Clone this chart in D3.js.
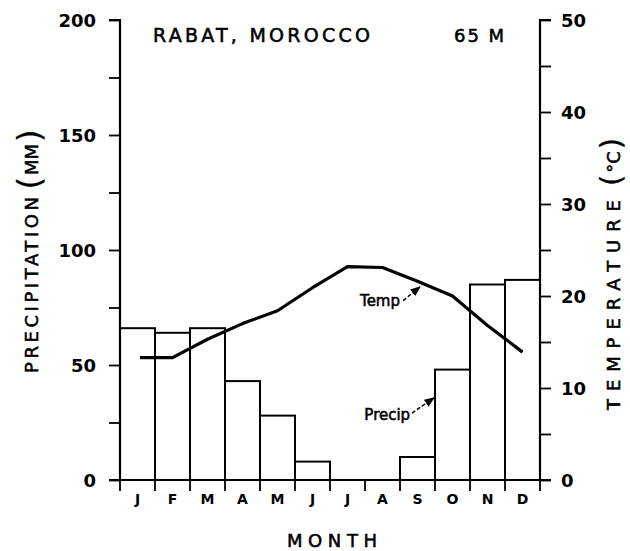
<!DOCTYPE html>
<html>
<head>
<meta charset="utf-8">
<script src="https://cdn.jsdelivr.net/npm/d3@7"></script>
<style>
  html, body { margin: 0; padding: 0; background: #fff; }
  svg { display: block; }
  text { fill: #000; }
</style>
</head>
<body>
<svg id="chart" width="630" height="551"></svg>
<script>
// ---- data ----
const months = ["J", "F", "M", "A", "M", "J", "J", "A", "S", "O", "N", "D"];
const precip = [66, 64, 66, 43, 28, 8, 0, 0, 10, 48, 85, 87];
const temp = [13.3, 13.3, 15.3, 17.0, 18.4, 20.9, 23.2, 23.1, 21.6, 20.0, 16.8, 13.9];
const precipTicks = [0, 25, 50, 75, 100, 125, 150, 175, 200];
const precipLabels = [0, 50, 100, 150, 200];
const tempTicks = [0, 5, 10, 15, 20, 25, 30, 35, 40, 45, 50];
const tempLabels = [0, 10, 20, 30, 40, 50];
const station = "RABAT, MOROCCO";
const elevation = "65 M";
// annotations in data units: month position (0..12) and value
const tempNote = { text: "Temp", x: 8.0, y: 18.9, ax0: 8.09, ay0: 19.5, ax1: 8.57, ay1: 21.0 };
const precipNote = { text: "Precip", x: 8.29, y: 26.1, ax0: 8.34, ay0: 29.1, ax1: 8.97, ay1: 35.7 };

(function () {
// ---- layout ----
const svg = d3.select("#chart");
const pL = 120, pR = 540, pT = 20, pB = 480;
const idx = d3.range(12);

const x = d3.scaleBand().domain(idx).range([pL, pR]).padding(0);
const xPos = d3.scaleLinear().domain([0, 12]).range([pL, pR]);
const yP = d3.scaleLinear().domain([0, 200]).range([pB, pT]);
const yT = d3.scaleLinear().domain([0, 50]).range([pB, pT]);

const font = "'DejaVu Sans', sans-serif";
const heavy = sel => sel.attr("stroke", "#000").attr("stroke-width", 0.55);

// bars
svg.append("g").selectAll("rect")
  .data(idx.filter(i => precip[i] > 0))
  .join("rect")
  .attr("x", i => x(i))
  .attr("y", i => yP(precip[i]))
  .attr("width", x.bandwidth())
  .attr("height", i => yP(0) - yP(precip[i]))
  .attr("fill", "#fff")
  .attr("stroke", "#000")
  .attr("stroke-width", 2);

// left axis
const gl = svg.append("g").attr("transform", `translate(${pL},0)`)
  .call(d3.axisLeft(yP).tickValues(precipTicks).tickSize(11).tickPadding(13)
    .tickFormat(d => precipLabels.includes(d) ? d : ""));
gl.select(".domain").attr("stroke-width", 2.2).attr("d", `M-11,${pT}H0V${pB}H-11`);
gl.selectAll(".tick line").attr("stroke-width", 1.8);
gl.selectAll(".tick text").attr("font-family", font).attr("font-weight", "bold")
  .attr("font-size", 18).attr("dy", "0.36em");

// right axis
const gr = svg.append("g").attr("transform", `translate(${pR},0)`)
  .call(d3.axisRight(yT).tickValues(tempTicks).tickSize(11).tickPadding(10)
    .tickFormat(d => tempLabels.includes(d) ? d : ""));
gr.select(".domain").attr("stroke-width", 2.2).attr("d", `M11,${pT}H0V${pB}H11`);
gr.selectAll(".tick line").attr("stroke-width", 1.8);
gr.selectAll(".tick text").attr("font-family", font).attr("font-weight", "bold")
  .attr("font-size", 18).attr("dy", "0.36em");

// bottom axis: ticks on band boundaries, labels centred in bands
const gb = svg.append("g").attr("transform", `translate(0,${pB})`);
gb.append("line").attr("x1", pL - 8).attr("x2", pR + 8)
  .attr("stroke", "#000").attr("stroke-width", 2.2);
gb.selectAll("line.b").data(d3.range(13)).join("line").attr("class", "b")
  .attr("x1", d => xPos(d)).attr("x2", d => xPos(d))
  .attr("y1", 0).attr("y2", 11).attr("stroke", "#000").attr("stroke-width", 1.8);
gb.selectAll("text").data(idx).join("text")
  .attr("x", i => x(i) + x.bandwidth() / 2)
  .attr("y", 24)
  .attr("text-anchor", "middle")
  .attr("font-family", font).attr("font-weight", "bold").attr("font-size", 14)
  .text(i => months[i]);

// temperature line
svg.append("path")
  .datum(idx)
  .attr("fill", "none").attr("stroke", "#000").attr("stroke-width", 3.2)
  .attr("stroke-linejoin", "round")
  .attr("d", d3.line().x(i => x(i) + x.bandwidth() / 2 + (i === 0 ? 2.5 : 0)).y(i => yT(temp[i])));

// titles
svg.append("text").attr("x", 153).attr("y", 42)
  .attr("font-family", font).attr("font-size", 19)
  .attr("textLength", 217).attr("lengthAdjust", "spacing")
  .call(heavy)
  .text(station);
svg.append("text").attr("x", 454).attr("y", 42)
  .attr("font-family", font).attr("font-size", 18)
  .attr("textLength", 50).attr("lengthAdjust", "spacing")
  .call(heavy)
  .text(elevation);

// axis titles
const pt = svg.append("text")
  .attr("transform", "translate(38,373) rotate(-90)")
  .attr("font-family", font).attr("font-size", 18).call(heavy);
pt.append("tspan").attr("textLength", 176).attr("lengthAdjust", "spacing").text("PRECIPITATION");
pt.append("tspan").attr("dx", 4).attr("font-size", 32).attr("dy", 2).attr("stroke-width", 0.3).text("(");
pt.append("tspan").attr("font-size", 18).attr("dx", 2).attr("dy", -2).text("MM");
pt.append("tspan").attr("font-size", 32).attr("dx", 2).attr("dy", 2).attr("stroke-width", 0.3).text(")");

const tt = svg.append("text")
  .attr("transform", "translate(620,410) rotate(-90)")
  .attr("font-family", font).attr("font-size", 18).call(heavy);
tt.append("tspan").attr("textLength", 210).attr("lengthAdjust", "spacing").text("TEMPERATURE");
tt.append("tspan").attr("dx", 6).attr("font-size", 29).attr("dy", 1).attr("stroke-width", 0.3).text("(");
tt.append("tspan").attr("font-size", 18).attr("dx", 2).attr("dy", -1).text("°C");
tt.append("tspan").attr("font-size", 29).attr("dx", 2).attr("dy", 1).attr("stroke-width", 0.3).text(")");

svg.append("text").attr("x", (pL + pR) / 2 + 2).attr("y", 547)
  .attr("text-anchor", "middle")
  .attr("font-family", font).attr("font-size", 18)
  .attr("textLength", 90).attr("lengthAdjust", "spacing")
  .call(heavy)
  .text("MONTH");

// annotations
svg.append("defs").append("marker")
  .attr("id", "arr").attr("viewBox", "0 0 10 10").attr("refX", 9).attr("refY", 5)
  .attr("markerWidth", 7).attr("markerHeight", 7).attr("orient", "auto")
  .append("path").attr("d", "M0,1L10,5L0,9Z").attr("fill", "#000");

function note(n, yScale) {
  svg.append("text").attr("x", xPos(n.x)).attr("y", yScale(n.y))
    .attr("text-anchor", "end")
    .attr("font-family", font).attr("font-size", 15)
    .call(heavy)
    .text(n.text);
  svg.append("line")
    .attr("x1", xPos(n.ax0)).attr("y1", yScale(n.ay0))
    .attr("x2", xPos(n.ax1)).attr("y2", yScale(n.ay1))
    .attr("stroke", "#000").attr("stroke-width", 1.5)
    .attr("stroke-dasharray", "4,2")
    .attr("marker-end", "url(#arr)");
}
note(tempNote, yT);
note(precipNote, yP);
})();
</script>
</body>
</html>
